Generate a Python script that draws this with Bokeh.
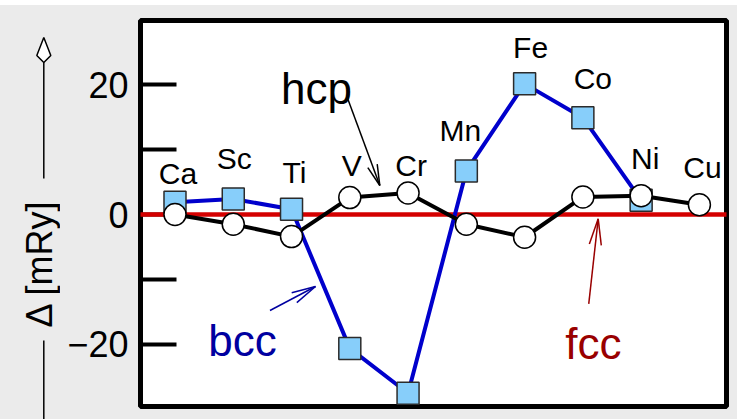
import math

from bokeh.core.properties import value
from bokeh.embed import file_html
from bokeh.layouts import column, row
from bokeh.models import (Arrow, ColumnDataSource, FixedTicker, Label,
                          LabelSet, Range1d, Spacer)
from bokeh.plotting import figure
from bokeh.resources import INLINE

# ---- data: structural energy differences across the 3d series (mRy) ----
elements = ["Ca", "Sc", "Ti", "V", "Cr", "Mn", "Fe", "Co", "Ni", "Cu"]
bcc_elements = ["Ca", "Sc", "Ti", "V", "Cr", "Mn", "Fe", "Co", "Ni"]
bcc_values = [1.9, 2.4, 0.8, -20.6, -27.5, 6.7, 20.1, 14.9, 2.2]
hcp_values = [0.0, -1.5, -3.4, 2.6, 3.3, -1.5, -3.5, 2.7, 2.9, 1.5]
fcc_reference = 0.0

y_ticks = [-20, -10, 0, 10, 20]
y_tick_labels = {-20: "\u221220", -10: "", 0: "0", 10: "", 20: "20"}
y_title = "\u0394 [mRy]"

# ---- layout ----
FONT = "Liberation Sans"
BG = "#ebebeb"
TITLE_W = 60
H = 414
FRAME_W, FRAME_H = 586, 386
X0, X1 = -0.592, 9.465
Y0, Y1 = -29.54, 29.85
XPX = FRAME_W / (X1 - X0)
YPX = FRAME_H / (Y1 - Y0)

p = figure(
    frame_width=FRAME_W, frame_height=FRAME_H,
    min_border_left=140 - TITLE_W, min_border_right=11,
    min_border_top=15, min_border_bottom=13,
    x_range=Range1d(X0, X1), y_range=Range1d(Y0, Y1),
    x_axis_location=None, y_axis_location="left",
    output_backend="svg", toolbar_location=None, tools="",
)
p.border_fill_color = BG
p.background_fill_color = "white"
p.outline_line_color = "black"
p.outline_line_width = 5
p.grid.visible = False

ax = p.yaxis[0]
ax.ticker = FixedTicker(ticks=y_ticks, minor_ticks=[])
ax.major_label_overrides = y_tick_labels
ax.axis_line_color = None
ax.major_tick_in = 36
ax.major_tick_out = 0
ax.major_tick_line_width = 4
ax.major_tick_line_color = "black"
ax.major_label_standoff = 12
ax.major_label_text_font = FONT
ax.major_label_text_font_size = "36px"
ax.major_label_text_color = "black"

idx = list(range(len(elements)))
bcc_idx = [elements.index(e) for e in bcc_elements]

# fcc reference level across the whole frame
p.line([X0, X1], [fcc_reference, fcc_reference], line_color="#d40000",
       line_width=4.5, level="overlay")

# bcc
bcc_src = ColumnDataSource(dict(x=bcc_idx, y=bcc_values))
p.line("x", "y", source=bcc_src, line_color="#0000cc", line_width=4,
       level="overlay")
p.scatter("x", "y", source=bcc_src, marker="square", size=22,
          fill_color="#87cefa", line_color="#2b2b2b", line_width=1.5,
          level="overlay")

# hcp
hcp_src = ColumnDataSource(dict(x=idx, y=hcp_values))
p.line("x", "y", source=hcp_src, line_color="black", line_width=4,
       level="overlay")
p.scatter("x", "y", source=hcp_src, marker="circle", size=22,
          fill_color="white", line_color="black", line_width=1.5,
          level="overlay")

# element names above the upper marker of each column
bcc_map = dict(zip(bcc_elements, bcc_values))
top = [max(h, bcc_map.get(e, h)) for e, h in zip(elements, hcp_values)]
name_dx = [3, 1, 3, 2, 3, -6, 6, 10, 4, 3]
name_dy = [18, 30, 26, 22, 17, 30, 26, 29, 27, 27]
names = ColumnDataSource(dict(x=idx, y=top, text=elements, dx=name_dx, dy=name_dy))
p.add_layout(LabelSet(x="x", y="y", text="text", source=names,
                      x_offset="dx", y_offset="dy",
                      text_align="center", text_baseline="alphabetic",
                      text_font=value(FONT), text_font_size="30px",
                      text_color="black"))


def pointer(x0, y0, x1, y1, color, head_len=24, head_half=5.5, width=1.5):
    """Thin line with a narrow open head at (x1, y1)."""
    sx0, sy0, sx1, sy1 = x0 * XPX, y0 * YPX, x1 * XPX, y1 * YPX
    dx, dy = sx1 - sx0, sy1 - sy0
    n = math.hypot(dx, dy)
    ux, uy = dx / n, dy / n
    bx, by = sx1 - ux * head_len, sy1 - uy * head_len
    wings = [(bx - uy * head_half, by + ux * head_half),
             (bx + uy * head_half, by - ux * head_half)]
    segs = [(x0, y0)] + [(wx / XPX, wy / YPX) for wx, wy in wings]
    for sx, sy in segs:
        p.add_layout(Arrow(x_start=sx, y_start=sy, x_end=x1, y_end=y1,
                           start=None, end=None, line_color=color,
                           line_width=width))


def caption(x, y, text, color):
    p.add_layout(Label(x=x, y=y, text=text, text_align="center",
                       text_baseline="alphabetic", text_font=FONT,
                       text_font_size="44px", text_color=color))


caption(2.428, 19.38, "hcp", "black")
pointer(2.955, 18.05, 3.515, 4.46, "black", head_len=21, head_half=5)
caption(1.158, -19.38, "bcc", "#0000a0")
pointer(1.630, -14.77, 2.411, -11.08, "#0000a0")
caption(7.182, -19.85, "fcc", "#990000")
pointer(7.101, -13.74, 7.263, -0.66, "#990000", head_len=26, head_half=6)

# ---- strip left of the axis: vertical title on a guide line with a diamond tip
# (pixel coordinates, y measured downward from the top of the strip)
t = figure(
    frame_width=TITLE_W, frame_height=H,
    min_border_left=0, min_border_right=0, min_border_top=0, min_border_bottom=0,
    x_range=Range1d(0, TITLE_W), y_range=Range1d(H, 0),
    x_axis_location=None, y_axis_location=None,
    output_backend="svg", toolbar_location=None, tools="",
)
t.border_fill_color = BG
t.background_fill_color = BG
t.outline_line_color = None
t.grid.visible = False

gx = 43.3
t.segment(x0=[gx, gx], y0=[402, 158], x1=[gx, gx], y1=[320, 42],
          line_color="black", line_width=1.5)
t.patch(x=[gx, gx + 7, gx, gx - 7], y=[17, 35, 42, 35],
        fill_color="white", line_color="black", line_width=1.5)
t.text(x=[39], y=[243], text=[y_title], angle=math.pi / 2,
       text_align="center", text_baseline="middle",
       text_font=value(FONT), text_font_size="36px", text_color="black")

layout = column(Spacer(width=737, height=5),
                row(t, p, styles={"background-color": BG}))
with open("out.html", "w") as f:
    f.write(file_html(layout, INLINE))
